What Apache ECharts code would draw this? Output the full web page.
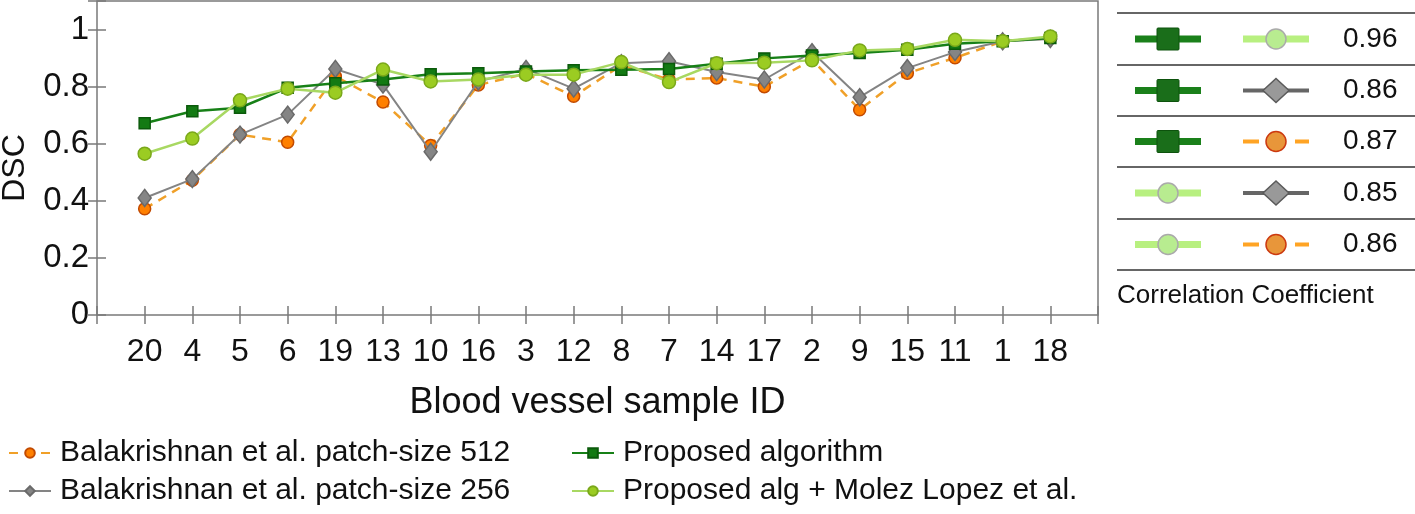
<!DOCTYPE html>
<html>
<head>
<meta charset="utf-8">
<script src="https://cdn.jsdelivr.net/npm/echarts@6/dist/echarts.min.js"></script>
<style>html,body{margin:0;padding:0;background:#fff}#c{width:1415px;height:514px}</style>
</head>
<body>
<div id="c"></div>
<script>
// ---- data ----
const categories = ['20','4','5','6','19','13','10','16','3','12','8','7','14','17','2','9','15','11','1','18'];
const yTickLabels = ['0','0.2','0.4','0.6','0.8','1'];
const seriesNames = ['Balakrishnan et al. patch-size 512','Balakrishnan et al. patch-size 256','Proposed algorithm','Proposed alg + Molez Lopez et al.'];
const balak512 = [0.372,0.472,0.632,0.605,0.836,0.746,0.594,0.806,0.845,0.766,0.875,0.825,0.830,0.800,0.895,0.719,0.847,0.901,0.959,0.970];
const balak256 = [0.410,0.476,0.632,0.702,0.862,0.807,0.572,0.818,0.862,0.793,0.882,0.889,0.851,0.825,0.921,0.763,0.865,0.921,0.959,0.967];
const proposed = [0.672,0.714,0.726,0.796,0.812,0.825,0.843,0.847,0.853,0.857,0.859,0.862,0.880,0.899,0.909,0.918,0.929,0.950,0.959,0.970];
const proposedMolez = [0.565,0.618,0.752,0.793,0.779,0.860,0.818,0.825,0.842,0.842,0.886,0.816,0.882,0.884,0.892,0.927,0.932,0.964,0.959,0.976];
const corrPairs = [[2,3],[2,1],[2,0],[3,1],[3,0]];
const corrValues = ['0.96','0.86','0.87','0.85','0.86'];
const corrTitle = 'Correlation Coefficient';

const FONT = '"Liberation Sans", Arial, sans-serif';
const toPts = arr => arr.map((v, i) => [i + 1, v]);

const styles = [
  {symbol:'circle', size:12, color:'#ff8000', border:'#c24a00', line:'#f0a028', lw:2.5, type:[9,7]},
  {symbol:'diamond', size:[13,17], color:'#858585', border:'#6a6a6a', line:'#848484', lw:2, type:'solid'},
  {symbol:'rect', size:11, color:'#137a13', border:'#0b5a0b', line:'#178017', lw:2.5, type:'solid'},
  {symbol:'circle', size:13, color:'#9bcc22', border:'#7aa81a', line:'#a8d862', lw:2.5, type:'solid'}
];
const dataSets = [balak512, balak256, proposed, proposedMolez];

const series = dataSets.map((d, k) => ({
  name: seriesNames[k], type: 'line', data: toPts(d),
  symbol: styles[k].symbol, symbolSize: styles[k].size,
  itemStyle: {color: styles[k].color, borderColor: styles[k].border, borderWidth: 1.5},
  lineStyle: {color: styles[k].line, width: styles[k].lw, type: styles[k].type},
  z: 2 + k, animation: false
}));

// table (correlation coefficients) styles
const tStyles = [
  {symbol:'circle', fill:'#e8963a', stroke:'#cc3a10', line:'#ffa424', lw:4, dash:[16,10], r:10},
  {symbol:'diamond', fill:'#999999', stroke:'#5a5a5a', line:'#666666', lw:4, dash:null, r:13},
  {symbol:'rect', fill:'#1a6e1a', stroke:'#0d520d', line:'#1a801a', lw:7, dash:null, r:11},
  {symbol:'circle', fill:'#b8ec90', stroke:'#aaaaaa', line:'#b8f080', lw:7, dash:null, r:10}
];
const rowLines = [13, 65, 116, 167, 219, 270];
const graphics = [];
rowLines.forEach(y => graphics.push({type:'line', shape:{x1:1117, y1:y, x2:1415, y2:y}, style:{stroke:'#333', lineWidth:1.5}}));
function glyph(k, cx, cy) {
  const s = tStyles[k];
  graphics.push({type:'line', shape:{x1:cx-33, y1:cy, x2:cx+33, y2:cy}, style:{stroke:s.line, lineWidth:s.lw, lineDash:s.dash}});
  if (s.symbol === 'circle') graphics.push({type:'circle', shape:{cx, cy, r:s.r}, style:{fill:s.fill, stroke:s.stroke, lineWidth:1.5}});
  else if (s.symbol === 'rect') graphics.push({type:'rect', shape:{x:cx-s.r, y:cy-s.r, width:2*s.r, height:2*s.r, r:1}, style:{fill:s.fill, stroke:s.stroke, lineWidth:1}});
  else graphics.push({type:'polygon', shape:{points:[[cx,cy-s.r+1],[cx+s.r,cy],[cx,cy+s.r-1],[cx-s.r,cy]]}, style:{fill:s.fill, stroke:s.stroke, lineWidth:1.5}});
}
corrPairs.forEach((p, i) => {
  const cy = (rowLines[i] + rowLines[i+1]) / 2;
  glyph(p[0], 1168, cy);
  glyph(p[1], 1276, cy);
  graphics.push({type:'text', x:1343, y:cy, style:{text:corrValues[i], font:'28px ' + FONT, fill:'#111', textVerticalAlign:'middle'}});
});
graphics.push({type:'text', x:1117, y:296, style:{text:corrTitle, font:'26px ' + FONT, fill:'#111', textVerticalAlign:'middle'}});

const tickStyle = {show:true, inside:true, length:9, lineStyle:{color:'#7a7a7a', width:1.5}};
const xBase = {type:'value', min:0, max:categories.length + 1, interval:1, splitLine:{show:false}, axisLine:{show:false}};
const yBase = {type:'value', min:0, max:1.1, interval:0.2, splitLine:{show:false}, axisLine:{show:false}};

const legendCommon = {orient:'vertical', itemWidth:42, itemHeight:12, itemGap:8,
  textStyle:{fontSize:30, fontFamily:FONT, color:'#111', padding:[0,0,0,4]}};

const option = {
  backgroundColor:'#fff',
  animation:false,
  grid:{left:97, right:317, top:1, bottom:199, show:true, borderColor:'#7a7a7a', borderWidth:1.5,
    containLabel:false, outerBoundsMode:'none'},
  xAxis:[
    Object.assign({}, xBase, {position:'bottom', axisTick:tickStyle,
      axisLabel:{fontSize:32, fontFamily:FONT, color:'#111', margin:21,
        formatter: v => categories[v - 1] || ''},
      name:'Blood vessel sample ID', nameLocation:'middle', nameGap:70,
      nameTextStyle:{fontSize:36, fontFamily:FONT, color:'#111'}}),
    Object.assign({}, xBase, {position:'top', axisTick:tickStyle, axisLabel:{show:false}})
  ],
  yAxis:[
    Object.assign({}, yBase, {position:'left', axisTick:tickStyle,
      axisLabel:{fontSize:33, fontFamily:FONT, color:'#111', margin:8,
        formatter: v => { const i = Math.round(v / 0.2); return (Math.abs(v - i*0.2) < 1e-6 && i < yTickLabels.length) ? yTickLabels[i] : ''; }},
      name:'DSC', nameLocation:'middle', nameGap:66, nameRotate:90,
      nameTextStyle:{fontSize:32, fontFamily:FONT, color:'#111', padding:[0,20,0,0]}}),
    Object.assign({}, yBase, {position:'right', axisTick:tickStyle, axisLabel:{show:false}})
  ],
  legend:[
    Object.assign({}, legendCommon, {left:3, top:433, data:[seriesNames[0], seriesNames[1]]}),
    Object.assign({}, legendCommon, {left:566, top:433, data:[seriesNames[2], seriesNames[3]]})
  ],
  graphic: graphics,
  series: series
};
const chart = echarts.init(document.getElementById('c'), null, {renderer:'canvas'});
chart.setOption(option);
</script>
</body>
</html>
